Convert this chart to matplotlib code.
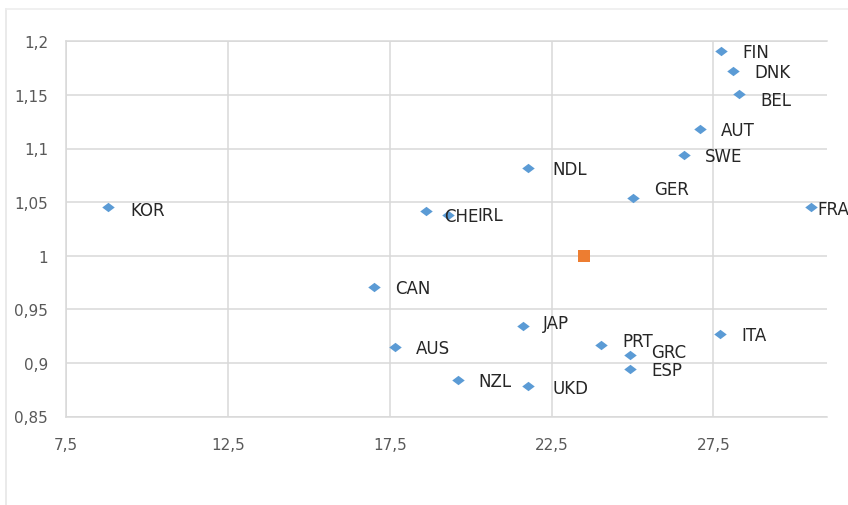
import matplotlib
matplotlib.use('Agg')
import matplotlib.pyplot as plt
from matplotlib.path import Path
from matplotlib.lines import Line2D

# country points
countries = ['FIN', 'DNK', 'BEL', 'AUT', 'SWE', 'NDL', 'GER', 'FRA', 'KOR', 'CHE', 'IRL',
             'CAN', 'JAP', 'ITA', 'AUS', 'PRT', 'GRC', 'ESP', 'NZL', 'UKD']
x_vals = [27.75, 28.12, 28.30, 27.09, 26.59, 21.78, 25.02, 30.51, 8.81, 18.61, 19.29,
          17.03, 21.61, 27.71, 17.65, 24.02, 24.92, 24.92, 19.60, 21.78]
y_vals = [1.191, 1.172, 1.151, 1.118, 1.094, 1.082, 1.054, 1.045, 1.045, 1.042, 1.038,
          0.971, 0.934, 0.927, 0.915, 0.917, 0.907, 0.894, 0.884, 0.878]

# reference point (orange square)
ref_x = [23.5]
ref_y = [1.0]

x_ticks = [7.5, 12.5, 17.5, 22.5, 27.5]
x_ticklabels = ['7,5', '12,5', '17,5', '22,5', '27,5']
y_ticks = [0.85, 0.9, 0.95, 1.0, 1.05, 1.1, 1.15, 1.2]
y_ticklabels = ['0,85', '0,9', '0,95', '1', '1,05', '1,1', '1,15', '1,2']

# label offsets in pixels (dx right, dy down from marker to visual centre of text)
label_off = {'BEL': (21, 5), 'GER': (21, -10), 'FRA': (7, 1), 'NDL': (24, 0),
             'CHE': (18, 4), 'IRL': (30, -1), 'JAP': (20, -4), 'PRT': (22, -5),
             'GRC': (21, -4), 'UKD': (24, 1), 'KOR': (22, 2)}

PX = 72.0 / 100  # pixel -> point at dpi 100
grid_col = '#d9d9d9'

fig = plt.figure(figsize=(8.48, 5.06), dpi=100)
ax = fig.add_axes([66 / 848, (506 - 417.5) / 506, (826.7 - 66) / 848, (417.5 - 42.3) / 506])

# excel-like wide diamond
diamond = Path([(-1, 0), (0, 0.75), (1, 0), (0, -0.75), (-1, 0)],
               [Path.MOVETO, Path.LINETO, Path.LINETO, Path.LINETO, Path.CLOSEPOLY])

ax.plot(x_vals, y_vals, linestyle='none', marker=diamond, markersize=9,
        color='#5b9bd5', markeredgewidth=0, zorder=3)
ax.plot(ref_x, ref_y, linestyle='none', marker='s', markersize=8.4,
        color='#ed7d31', markeredgewidth=0, zorder=3)

for name, x, y in zip(countries, x_vals, y_vals):
    dx, dy = label_off.get(name, (21, 0))
    ax.annotate(name, (x, y), xytext=(dx * PX, -(dy + 6) * PX), textcoords='offset points',
                ha='left', va='baseline', fontsize=12, color='#262626',
                family='DejaVu Sans', annotation_clip=False, zorder=4)

ax.set_xlim(7.5, 31.0)
ax.set_ylim(0.85, 1.2)
ax.set_xticks(x_ticks)
ax.set_xticklabels(x_ticklabels)
ax.set_yticks(y_ticks)
ax.set_yticklabels(y_ticklabels)
ax.tick_params(length=0, labelsize=11, labelcolor='#595959')
ax.tick_params(axis='x', pad=15)
ax.tick_params(axis='y', pad=13)

ax.grid(True, color=grid_col, linewidth=1.1)
ax.set_axisbelow(True)
for side in ['left', 'bottom', 'top']:
    ax.spines[side].set_color(grid_col)
    ax.spines[side].set_linewidth(1.1)
ax.spines['right'].set_visible(False)

# outer chart border (cropped)
fig.add_artist(Line2D([6 / 848, 6 / 848], [0, 1 - 10 / 506], transform=fig.transFigure,
                      color='#e6e6e6', linewidth=1.2))
fig.add_artist(Line2D([6 / 848, 1], [1 - 10 / 506, 1 - 10 / 506], transform=fig.transFigure,
                      color='#eeeeee', linewidth=1.2))

fig.savefig('out.png', dpi=100)
